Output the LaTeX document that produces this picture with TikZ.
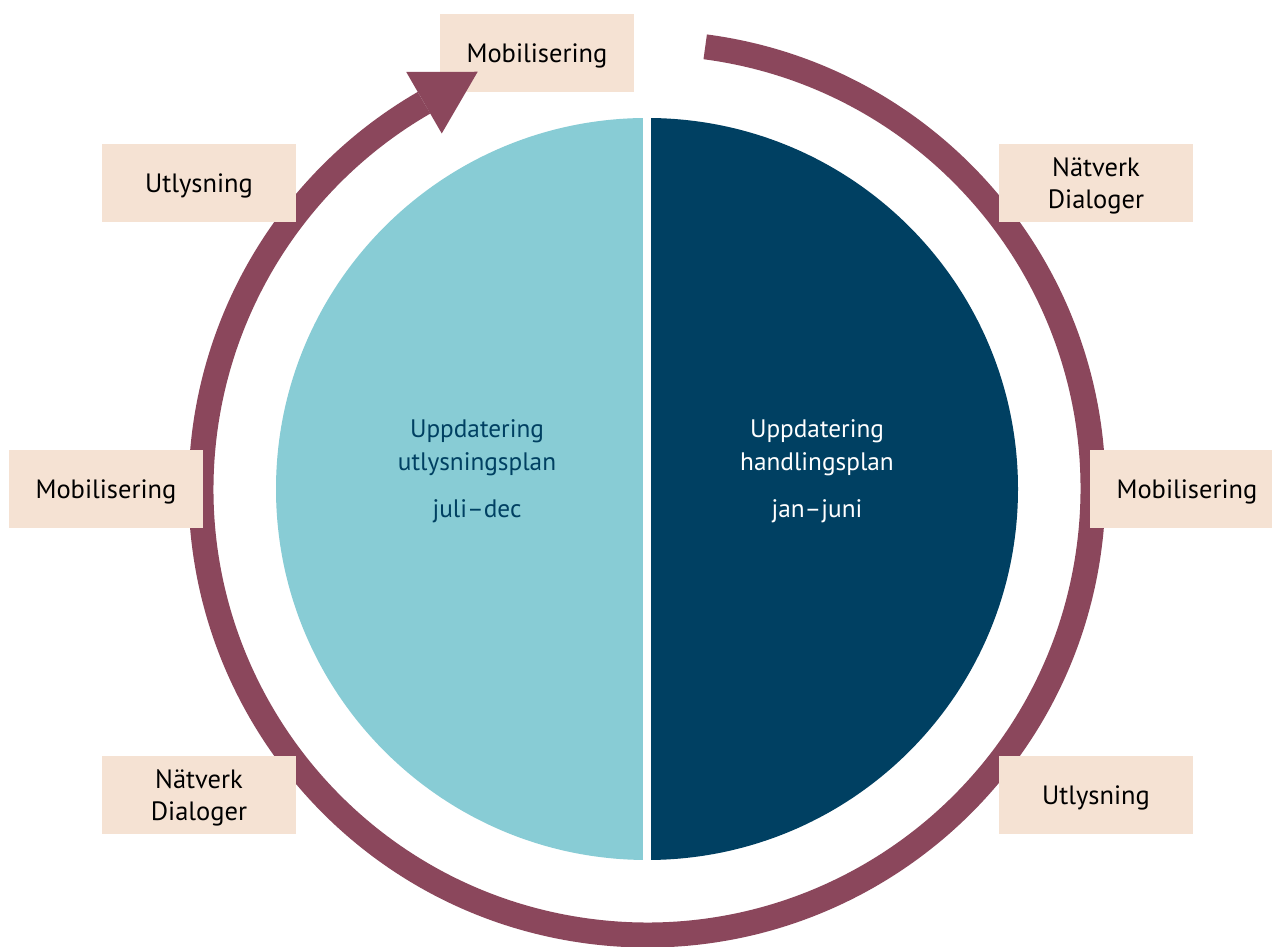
\documentclass[tikz,border=0pt]{standalone}
\usepackage{fontspec}
\setmainfont{PT Sans}
\usetikzlibrary{calc}
\definecolor{ringc}{RGB}{139,71,92}
\definecolor{boxc}{RGB}{245,226,211}
\definecolor{lightb}{RGB}{136,204,213}
\definecolor{darkb}{RGB}{0,64,98}
\tikzset{
  lbl/.style={fill=boxc, minimum width=194pt, minimum height=78pt, inner sep=0pt, align=center,
    font=\fontsize{26.5}{32}\selectfont, text=black, text height=19pt, text depth=0pt},
  lbltwo/.style={lbl, text height=51pt, text depth=0pt},
  ctext/.style={align=center, font=\fontsize{25.3}{33}\selectfont},
}
\begin{document}
\begin{tikzpicture}[x=1pt,y=1pt]
\clip (0,0) rectangle (1272,947);
\fill[white] (0,0) rectangle (1272,947);
\coordinate (c) at (647,458);
% halves
\fill[lightb] (c) ++(90:371) arc (90:270:371) -- cycle;
\fill[darkb] (c) ++(-90:371) arc (-90:90:371) -- cycle;
\fill[white] (643,80) rectangle (651,840);
% ring
\draw[ringc, line width=25pt] (c) ++(82.5:446) arc (82.5:-240:446);
% boxes
\node[lbl] (m1) at (537,894) {Mobilisering};
\node[lbl] (u1) at (199,764) {Utlysning};
\node[lbltwo] (n1) at (1096,764) {Nätverk\\Dialoger};
\node[lbl] (m2) at (106,458) {Mobilisering};
\node[lbl] (m3) at (1187,458) {Mobilisering};
\node[lbltwo] (n2) at (199,152) {Nätverk\\Dialoger};
\node[lbl] (u2) at (1096,152) {Utlysning};
% arrowhead
\coordinate (b) at ($(c)+(120:446)$);
\fill[ringc] ($(c)+(120:410.5)$) -- ($(c)+(120:481.5)$) -- ($(b)+(30:62)$) -- cycle;
% center texts
\node[ctext, text=darkb] (lt) at (477,476) {Uppdatering\\utlysningsplan\\[14pt]juli–dec};
\node[ctext, text=white] (rt) at (817,476) {Uppdatering\\handlingsplan\\[14pt]jan–juni};
\end{tikzpicture}
\end{document}
